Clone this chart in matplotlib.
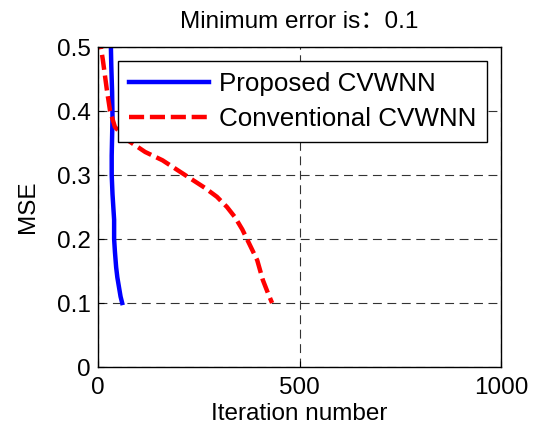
import matplotlib
matplotlib.use("Agg")
import matplotlib.pyplot as plt

plt.rcParams["font.family"] = ["Liberation Sans", "Noto Sans CJK SC", "DejaVu Sans"]

# Proposed CVWNN (iteration, MSE)
proposed_iter = [32, 33, 35, 36, 35, 34, 34, 36, 40, 40, 42, 45, 48, 52, 56, 60]
proposed_mse = [0.50, 0.47, 0.43, 0.39, 0.36, 0.33, 0.30, 0.27, 0.23, 0.20, 0.18, 0.156, 0.14, 0.125, 0.11, 0.10]

# Conventional CVWNN (iteration, MSE)
conv_iter = [2, 7, 12, 22, 30, 42, 72, 117, 160, 216, 265, 295, 320, 340, 358, 375, 395, 409, 422, 432]
conv_mse = [0.52, 0.50, 0.48, 0.433, 0.40, 0.375, 0.355, 0.336, 0.323, 0.30, 0.28, 0.266, 0.25, 0.234, 0.215, 0.193, 0.167, 0.136, 0.115, 0.10]

fig = plt.figure(figsize=(5.34, 4.37), dpi=100)
ax = fig.add_axes([98 / 534, 70 / 437, 403 / 534, 320 / 437])

ax.plot(proposed_iter, proposed_mse, color="#0000ff", lw=3.2, label="Proposed CVWNN")
ax.plot(conv_iter, conv_mse, color="#ff0000", lw=3.2, ls=(0, (3.4, 1.3)), label="Conventional CVWNN")

ax.set_xlim(0, 1000)
ax.set_ylim(0, 0.5)
ax.set_xticks([0, 500, 1000])
ax.set_yticks([0, 0.1, 0.2, 0.3, 0.4, 0.5])
ax.set_yticklabels(["0", "0.1", "0.2", "0.3", "0.4", "0.5"])
ax.grid(True, color="#333333", ls=(0, (8, 5)), lw=0.8)
ax.tick_params(direction="in", length=4, labelsize=17.5)
ax.tick_params(axis="x", pad=7)
ax.tick_params(axis="y", pad=5)
for s in ax.spines.values():
    s.set_linewidth(1.0)

ax.set_title("Minimum error is\uff1a0.1", fontsize=17.5, pad=14)
ax.set_xlabel("Iteration number", fontsize=17.5, labelpad=3)
ax.set_ylabel("MSE", fontsize=17.5, labelpad=13)

leg = ax.legend(loc="upper left", bbox_to_anchor=(118 / 534, 1 - 61 / 437),
                bbox_transform=fig.transFigure, fontsize=18.7, frameon=True,
                fancybox=False, edgecolor="black", framealpha=1,
                handlelength=3.1, borderpad=0.42, labelspacing=0.42,
                handletextpad=0.35, borderaxespad=0)
leg.get_frame().set_linewidth(1.0)

fig.savefig("out.png", dpi=100)
